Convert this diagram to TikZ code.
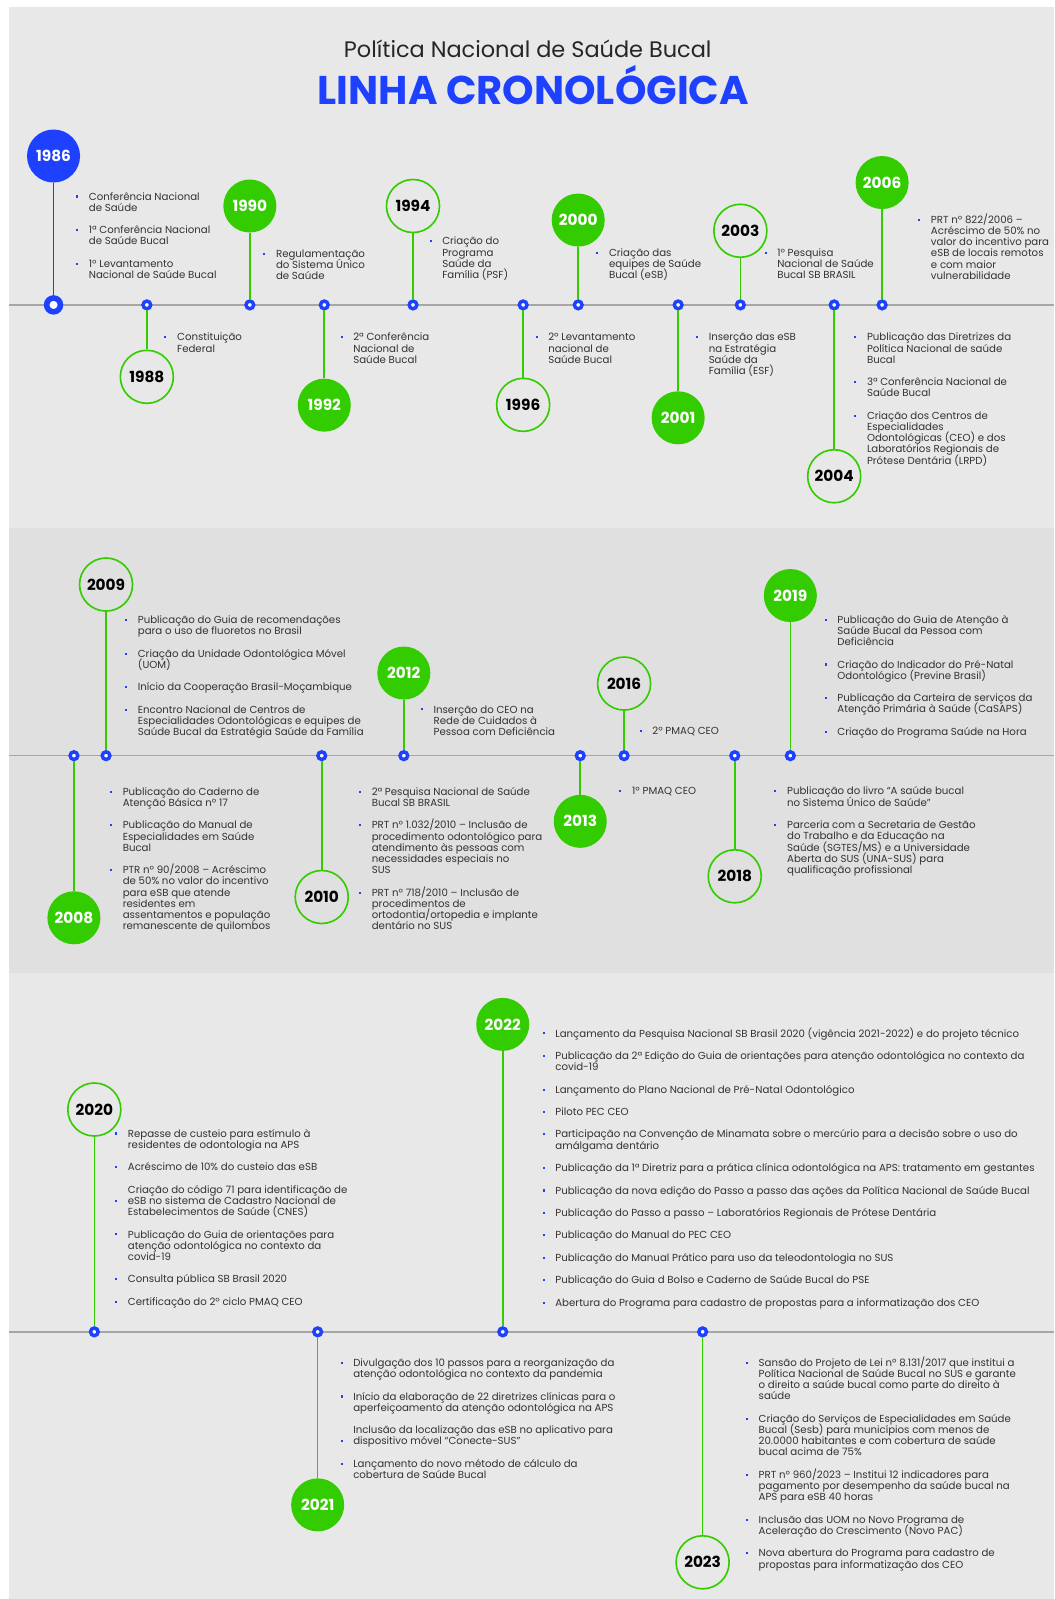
\documentclass[tikz,border=0pt]{standalone}
\usepackage{fontspec}
\setmainfont{Poppins}
\usepackage{xcolor}

\definecolor{azul}{HTML}{1E40FF}
\definecolor{verde}{HTML}{33CC00}
\definecolor{linha}{HTML}{A6A6A6}
\definecolor{fundoclaro}{HTML}{E8E8E8}
\definecolor{fundoescuro}{HTML}{E0E0E0}
\definecolor{escrita}{HTML}{333333}

\newcommand{\marcador}{\textcolor{azul}{\rule[2.5pt]{2pt}{2pt}}}
\newcommand{\topico}[1]{\noindent\llap{\makebox[12.5pt][l]{\marcador}}#1\par}
\newcommand{\topicob}[1]{\noindent\llap{\makebox[12.5pt][l]{\raisebox{-11pt}{\marcador}}}#1\par}
\newcommand{\bloco}[1]{\parbox[t]{560pt}{\setlength{\leftskip}{12.5pt}\setlength{\parskip}{11pt}\setlength{\parindent}{0pt}\lineskiplimit=-100pt\lineskip=0pt #1}}

\tikzstyle{ano}= [circle,minimum size=52pt,inner sep=0pt,font=\fontsize{15}{15}\selectfont\bfseries]
\tikzstyle{anoazul}= [ano,fill=azul,text=white]
\tikzstyle{anocheio}= [ano,fill=verde,text=white]
\tikzstyle{anovazio}= [ano,draw=verde,line width=1.6pt,text=black]
\tikzstyle{marco}= [circle,draw=azul,fill=white,line width=3.4pt,minimum size=7.5pt,inner sep=0pt]
\tikzstyle{marcogrande}= [marco,line width=5.5pt,minimum size=13.5pt]
\tikzstyle{tallo}= [verde,line width=1.6pt]
\tikzstyle{eixo}= [linha,line width=1.6pt]
\tikzstyle{texto}= [anchor=base west,inner sep=0pt,text=escrita,font=\fontsize{10}{11}\selectfont]

\begin{document}
\begin{tikzpicture}[x=1pt,y=-1pt]

		\useasboundingbox (0,0) rectangle (1034,1568);
		\fill[white] (0,0) rectangle (1034,1568);
		\fill[fundoclaro] (9,7) rectangle (1034,518);
		\fill[fundoescuro] (9,518) rectangle (1034,954);
		\fill[fundoclaro] (9,954) rectangle (1034,1568);

		\node (titulo) at (517.5,48) [text=black!85] {\fontsize{22}{22}\selectfont Política Nacional de Saúde Bucal};
		\node (subtitulo) at (523,83) [text=azul] {\fontsize{39.3}{39.3}\selectfont\bfseries LINHA CRONOLÓGICA};

		\coordinate (ini1) at (9,299);
		\coordinate (fim1) at (1034,299);
		\coordinate (ini2) at (9,741);
		\coordinate (fim2) at (1034,741);
		\coordinate (ini3) at (9,1306);
		\coordinate (fim3) at (1034,1306);
		\path[eixo] (ini1) edge[] (fim1);
		\path[eixo] (ini2) edge[] (fim2);
		\path[eixo] (ini3) edge[] (fim3);

		\node (a1986) at (52.5,153) [anoazul] {1986};
		\node (m1986) at (52.5,299) [marcogrande] {};
		\node (t1986) at (74.5,196.2) [texto] {\bloco{\topico{Conferência Nacional\newline de Saúde}\topico{1ª Conferência Nacional\newline de Saúde Bucal}\topico{1º Levantamento\newline Nacional de Saúde Bucal}}};

		\node (a1988) at (144,369.5) [anovazio] {1988};
		\node (m1988) at (144,299) [marco] {};
		\node (t1988) at (161,334.2) [texto] {\bloco{\topico{Constituição\newline Federal}}};

		\node (a1990) at (245,202) [anocheio] {1990};
		\node (m1990) at (245,299) [marco] {};
		\node (t1990) at (258,252.2) [texto] {\bloco{\topico{Regulamentação\newline do Sistema Único\newline de Saúde}}};

		\node (a1992) at (318,397.3) [anocheio] {1992};
		\node (m1992) at (318,299) [marco] {};
		\node (t1992) at (333.8,334.2) [texto] {\bloco{\topico{2ª Conferência\newline Nacional de\newline Saúde Bucal}}};

		\node (a1994) at (405,202) [anovazio] {1994};
		\node (m1994) at (405,299) [marco] {};
		\node (t1994) at (421,240.2) [texto] {\bloco{\topico{Criação do\newline Programa\newline Saúde da\newline Família (PSF)}}};

		\node (a1996) at (513,397) [anovazio] {1996};
		\node (m1996) at (513,299) [marco] {};
		\node (t1996) at (525,334.2) [texto] {\bloco{\topico{2º Levantamento\newline nacional de\newline Saúde Bucal}}};

		\node (a2000) at (567,215.8) [anocheio] {2000};
		\node (m2000) at (567,299) [marco] {};
		\node (t2000) at (584.5,251.2) [texto] {\bloco{\topico{Criação das\newline equipes de Saúde\newline Bucal (eSB)}}};

		\node (a2001) at (665,409.7) [anocheio] {2001};
		\node (m2001) at (665,299) [marco] {};
		\node (t2001) at (682.3,334.2) [texto] {\bloco{\topico{Inserção das eSB\newline na Estratégia\newline Saúde da\newline Família (ESF)}}};

		\node (a2003) at (726,226.3) [anovazio] {2003};
		\node (m2003) at (726,299) [marco] {};
		\node (t2003) at (749.5,251.2) [texto] {\bloco{\topico{1º Pesquisa\newline Nacional de Saúde\newline Bucal SB BRASIL}}};

		\node (a2004) at (818,467) [anovazio] {2004};
		\node (m2004) at (818,299) [marco] {};
		\node (t2004) at (837.5,334.2) [texto] {\bloco{\topico{Publicação das Diretrizes da\newline Política Nacional de saúde\newline Bucal}\topico{3ª Conferência Nacional de\newline Saúde Bucal}\topico{Criação dos Centros de\newline Especialidades\newline Odontológicas (CEO) e dos\newline Laboratórios Regionais de\newline Prótese Dentária (LRPD)}}};

		\node (a2006) at (865,179) [anocheio] {2006};
		\node (m2006) at (865,299) [marco] {};
		\node (t2006) at (900.2,219) [texto] {\bloco{\topico{PRT nº 822/2006 –\newline Acréscimo de 50\% no\newline valor do incentivo para\newline eSB de locais remotos\newline e com maior\newline vulnerabilidade}}};

		\node (a2008) at (72.5,900) [anocheio] {2008};
		\node (m2008) at (72.5,741) [marco] {};
		\node (t2008) at (107.7,779.8) [texto] {\bloco{\topico{Publicação do Caderno de\newline Atenção Básica nº 17}\topico{Publicação do Manual de\newline Especialidades em Saúde\newline Bucal}\topico{PTR nº 90/2008 – Acréscimo\newline de 50\% no valor do incentivo\newline para eSB que atende\newline residentes em\newline assentamentos e população\newline remanescente de quilombos}}};

		\node (a2009) at (104,573.2) [anovazio] {2009};
		\node (m2009) at (104,741) [marco] {};
		\node (t2009) at (122.5,611.4) [texto] {\bloco{\topico{Publicação do Guia de recomendações\newline para o uso de fluoretos no Brasil}\topico{Criação da Unidade Odontológica Móvel\newline (UOM)}\topico{Início da Cooperação Brasil-Moçambique}\topico{Encontro Nacional de Centros de\newline Especialidades Odontológicas e equipes de\newline Saúde Bucal da Estratégia Saúde da Família}}};

		\node (a2010) at (315.5,879.6) [anovazio] {2010};
		\node (m2010) at (315.5,741) [marco] {};
		\node (t2010) at (351.9,779.8) [texto] {\bloco{\topico{2ª Pesquisa Nacional de Saúde\newline Bucal SB BRASIL}\topico{PRT nº 1.032/2010 – Inclusão de\newline procedimento odontológico para\newline atendimento às pessoas com\newline necessidades especiais no\newline SUS}\topico{PRT nº 718/2010 – Inclusão de\newline procedimentos de\newline ortodontia/ortopedia e implante\newline dentário no SUS}}};

		\node (a2012) at (396,660) [anocheio] {2012};
		\node (m2012) at (396,741) [marco] {};
		\node (t2012) at (412.5,699.2) [texto] {\bloco{\topico{Inserção do CEO na\newline Rede de Cuidados à\newline Pessoa com Deficiência}}};

		\node (a2013) at (569,805.4) [anocheio] {2013};
		\node (m2013) at (569,741) [marco] {};
		\node (t2013) at (607.2,779.5) [texto] {\bloco{\topico{1º PMAQ CEO}}};

		\node (a2016) at (612,670.3) [anovazio] {2016};
		\node (m2016) at (612,741) [marco] {};
		\node (t2016) at (627.1,720) [texto] {\bloco{\topico{2º PMAQ CEO}}};

		\node (a2018) at (720.5,859.3) [anovazio] {2018};
		\node (m2018) at (720.5,741) [marco] {};
		\node (t2018) at (759.2,779.5) [texto] {\bloco{\topico{Publicação do livro “A saúde bucal\newline no Sistema Único de Saúde”}\topico{Parceria com a Secretaria de Gestão\newline do Trabalho e da Educação na\newline Saúde (SGTES/MS) e a Universidade\newline Aberta do SUS (UNA-SUS) para\newline qualificação profissional}}};

		\node (a2019) at (775,584) [anocheio] {2019};
		\node (m2019) at (775,741) [marco] {};
		\node (t2019) at (808.5,611.1) [texto] {\bloco{\topico{Publicação do Guia de Atenção à\newline Saúde Bucal da Pessoa com\newline Deficiência}\topico{Criação do Indicador do Pré-Natal\newline Odontológico (Previne Brasil)}\topico{Publicação da Carteira de serviços da\newline Atenção Primária à Saúde (CaSAPS)}\topico{Criação do Programa Saúde na Hora}}};

		\node (a2020) at (92.5,1088) [anovazio] {2020};
		\node (m2020) at (92.5,1306) [marco] {};
		\node (t2020) at (112.7,1115) [texto] {\bloco{\topico{Repasse de custeio para estímulo à\newline residentes de odontologia na APS}\topico{Acréscimo de 10\% do custeio das eSB}\topicob{Criação do código 71 para identificação de\newline eSB no sistema de Cadastro Nacional de\newline Estabelecimentos de Saúde (CNES)}\topico{Publicação do Guia de orientações para\newline atenção odontológica no contexto da\newline covid-19}\topico{Consulta pública SB Brasil 2020}\topico{Certificação do 2º ciclo PMAQ CEO}}};

		\node (a2021) at (311.5,1475.7) [anocheio] {2021};
		\node (m2021) at (311.5,1306) [marco] {};
		\node (t2021) at (333.7,1339.9) [texto] {\bloco{\topico{Divulgação dos 10 passos para a reorganização da\newline atenção odontológica no contexto da pandemia}\topico{Início da elaboração de 22 diretrizes clínicas para o\newline aperfeiçoamento da atenção odontológica na APS}\topicob{Inclusão da localização das eSB no aplicativo para\newline dispositivo móvel “Conecte-SUS”}\topico{Lançamento do novo método de cálculo da\newline cobertura de Saúde Bucal}}};

		\node (a2022) at (493,1004.5) [anocheio] {2022};
		\node (m2022) at (493,1306) [marco] {};
		\node (t2022) at (531.9,1016.9) [texto] {\bloco{\topico{Lançamento da Pesquisa Nacional SB Brasil 2020 (vigência 2021-2022) e do projeto técnico}\topico{Publicação da 2ª Edição do Guia de orientações para atenção odontológica no contexto da\newline covid-19}\topico{Lançamento do Plano Nacional de Pré-Natal Odontológico}\topico{Piloto PEC CEO}\topico{Participação na Convenção de Minamata sobre o mercúrio para a decisão sobre o uso do\newline amálgama dentário}\topico{Publicação da 1ª Diretriz para a prática clínica odontológica na APS: tratamento em gestantes}\topico{Publicação da nova edição do Passo a passo das ações da Política Nacional de Saúde Bucal}\topico{Publicação do Passo a passo – Laboratórios Regionais de Prótese Dentária}\topico{Publicação do Manual do PEC CEO}\topico{Publicação do Manual Prático para uso da teleodontologia no SUS}\topico{Publicação do Guia d Bolso e Caderno de Saúde Bucal do PSE}\topico{Abertura do Programa para cadastro de propostas para a informatização dos CEO}}};

		\node (a2023) at (689,1532) [anovazio] {2023};
		\node (m2023) at (689,1306) [marco] {};
		\node (t2023) at (731.3,1339.6) [texto] {\bloco{\topico{Sansão do Projeto de Lei nº 8.131/2017 que institui a\newline Política Nacional de Saúde Bucal no SUS e garante\newline o direito a saúde bucal como parte do direito à\newline saúde}\topico{Criação do Serviços de Especialidades em Saúde\newline Bucal (Sesb) para municípios com menos de\newline 20.0000 habitantes e com cobertura de saúde\newline bucal acima de 75\%}\topico{PRT nº 960/2023 – Institui 12 indicadores para\newline pagamento por desempenho da saúde bucal na\newline APS para eSB 40 horas}\topico{Inclusão das UOM no Novo Programa de\newline Aceleração do Crescimento (Novo PAC)}\topico{Nova abertura do Programa para cadastro de\newline propostas para informatização dos CEO}}};

		\path[tallo,azul] (a1986) edge[] (m1986);
		\path[tallo] (m1988) edge[] (a1988);
		\path[tallo] (a1990) edge[] (m1990);
		\path[tallo] (m1992) edge[] (a1992);
		\path[tallo] (a1994) edge[] (m1994);
		\path[tallo] (m1996) edge[] (a1996);
		\path[tallo] (a2000) edge[] (m2000);
		\path[tallo] (m2001) edge[] (a2001);
		\path[tallo] (a2003) edge[] (m2003);
		\path[tallo] (m2004) edge[] (a2004);
		\path[tallo] (a2006) edge[] (m2006);

		\path[tallo] (m2008) edge[] (a2008);
		\path[tallo] (a2009) edge[] (m2009);
		\path[tallo] (m2010) edge[] (a2010);
		\path[tallo] (a2012) edge[] (m2012);
		\path[tallo] (m2013) edge[] (a2013);
		\path[tallo] (a2016) edge[] (m2016);
		\path[tallo] (m2018) edge[] (a2018);
		\path[tallo] (a2019) edge[] (m2019);

		\path[tallo] (a2020) edge[] (m2020);
		\path[tallo] (m2021) edge[] (a2021);
		\path[tallo] (a2022) edge[] (m2022);
		\path[tallo] (m2023) edge[] (a2023);

	\end{tikzpicture}
\end{document}
